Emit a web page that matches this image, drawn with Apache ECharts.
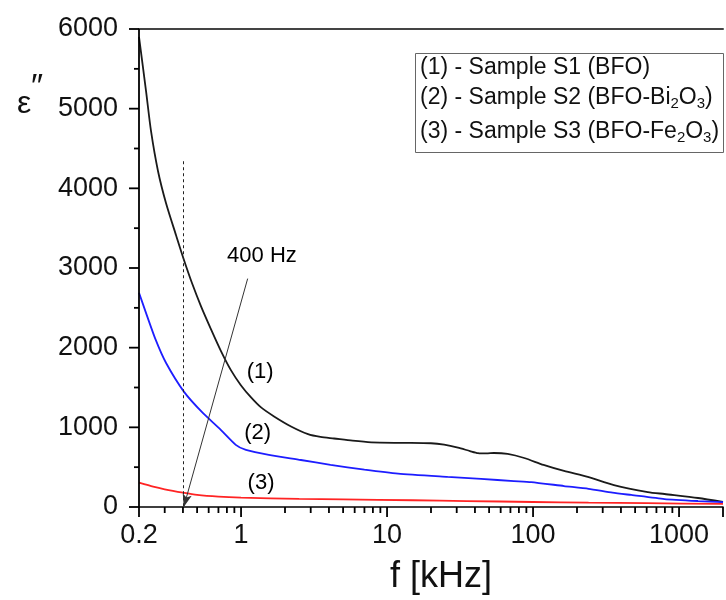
<!DOCTYPE html>
<html>
<head>
<meta charset="utf-8">
<script src="https://cdn.jsdelivr.net/npm/echarts@6/dist/echarts.min.js"></script>
<style>
html,body{margin:0;padding:0;background:#fff;}
#c{width:726px;height:600px;}
</style>
</head>
<body>
<div id="c"></div>
<script>
// ---- data (f in kHz, epsilon'') ----
var s1 = [[0.2,5900],[0.2235,5220],[0.2418,4717],[0.270,4215],[0.3064,3813],[0.3588,3411],[0.407,3097],[0.4618,2808],[0.532,2519],[0.623,2230],[0.730,1954],[0.854,1715],[1.0,1526],[1.171,1376],[1.371,1250],[1.683,1137],[2.2,1011],[2.876,915],[3.5,880],[4.335,860],[5.8,832],[7.8,812],[12.5,805],[20,800],[24.6,782],[30.6,745],[37,702],[42,676],[48,672],[54,678],[67,666],[87,615],[118,528],[163,452],[237,377],[358,276],[611,188],[795,163],[1350,113],[2000,63]];
var s2 = [[0.2,2690],[0.223,2440],[0.26,2100],[0.306,1810],[0.407,1445],[0.547,1180],[0.707,990],[0.92,780],[1.08,716],[1.55,653],[2.57,590],[4.1,528],[7,468],[11.9,418],[26,377],[44,352],[74,326],[97,313],[163,263],[240,228],[350,180],[470,151],[795,100],[1350,75],[2000,62]];
var s3 = [[0.2,305],[0.25,255],[0.3,222],[0.4,180],[0.5,152],[0.7,130],[1,118],[2.5,102],[5,95],[15,85],[35,75],[100,63],[240,55],[600,48],[2000,38]];
var majorLabels = [0.2, 1, 10, 100, 1000];
var xMajorTicks = [0.2, 1, 10, 100, 1000, 2000];
var xMinorTicks = [0.3,0.4,0.5,0.6,0.7,0.8,0.9,2,3,4,5,6,7,8,9,20,30,40,50,60,70,80,90,200,300,400,500,600,700,800,900];
var yMajorTicks = [0,1000,2000,3000,4000,5000,6000];
var yMinorTicks = [500,1500,2500,3500,4500,5500];
var curveLabels = [{name:'(1)', value:[1.35,1690]},{name:'(2)', value:[1.30,932]},{name:'(3)', value:[1.37,304]},{name:'400 Hz', value:[1.39,3147]}];
var markerFreq = 0.4;      // dashed line at 400 Hz
var markerTop = 4340;
var arrowStart = [1.11, 2867];
var arrowEnd = [0.405, 0];
var legendLines = [
  '{n|(1) - Sample S1 (BFO)}',
  '{n|(2) - Sample S2 (BFO-Bi}{s|2}{n|O}{s|3}{n|)}',
  '{n|(3) - Sample S3 (BFO-Fe}{s|2}{n|O}{s|3}{n|)}'
];

var FONT = "'Liberation Sans', Arial, sans-serif";
var chart = echarts.init(document.getElementById('c'), null, {renderer:'canvas'});
var richStyle = {
  n:{fontSize:23, lineHeight:26, fontFamily:FONT, fill:'#111'},
  s:{fontSize:15, lineHeight:2, verticalAlign:'bottom', fontFamily:FONT, fill:'#111'}
};
var legendY = [68, 98, 132];
var XMIN = 0.2, XMAX = 2000, YMAX = 6000;

var baseGraphic = [
  {type:'rect', left:415, top:53, shape:{width:308, height:99}, style:{fill:'#fff', stroke:'#666', lineWidth:1}, z:10},
  {type:'text', x:420, y:legendY[0], style:{text:legendLines[0], rich:richStyle, verticalAlign:'middle', align:'left'}, z:11},
  {type:'text', x:420, y:legendY[1], style:{text:legendLines[1], rich:richStyle, verticalAlign:'middle', align:'left'}, z:11},
  {type:'text', x:420, y:legendY[2], style:{text:legendLines[2], rich:richStyle, verticalAlign:'middle', align:'left'}, z:11},
  {type:'text', x:17, y:104, style:{text:'ε', fontSize:32, fontFamily:FONT, fill:'#111', verticalAlign:'middle'}, z:11},
  {type:'text', x:31, y:88, style:{text:'″', fontSize:34, fontFamily:FONT, fill:'#111', verticalAlign:'middle'}, z:11}
];

chart.setOption({
  animation:false,
  grid:{left:139, right:3, top:29, bottom:93, containLabel:false},
  xAxis:[{
    type:'log', logBase:10, min:XMIN, max:XMAX, position:'bottom',
    axisLine:{show:true, onZero:false, lineStyle:{color:'#000', width:1.6}},
    axisTick:{show:false},
    splitLine:{show:false},
    axisLabel:{show:true, interval:0, margin:15, fontSize:27, color:'#111', fontFamily:FONT,
      formatter:function(v){
        for (var i=0;i<majorLabels.length;i++){ if (Math.abs(v-majorLabels[i])/majorLabels[i] < 1e-6) return String(majorLabels[i]); }
        return '';
      }},
    name:'f [kHz]', nameLocation:'middle', nameGap:52,
    nameTextStyle:{fontSize:36, color:'#111', fontFamily:FONT, padding:[0,0,0,20]}
  },{
    type:'log', logBase:10, min:XMIN, max:XMAX, position:'top',
    axisLine:{show:true, onZero:false, lineStyle:{color:'#444', width:2}},
    axisTick:{show:false}, axisLabel:{show:false}, splitLine:{show:false}
  }],
  yAxis:[{
    type:'value', min:0, max:YMAX, interval:1000, position:'left',
    axisLine:{show:false, onZero:false},
    axisTick:{show:false},
    splitLine:{show:false},
    axisLabel:{fontSize:27, color:'#111', margin:21, fontFamily:FONT, formatter:function(v){return String(v);}}
  }],
  series:[
    {type:'line', name:'S1', data:s1, smooth:0.25, showSymbol:false, lineStyle:{color:'#1a1a1a', width:1.8}, z:3},
    {type:'line', name:'S2', data:s2, smooth:0.2, showSymbol:false, lineStyle:{color:'#1d1dff', width:1.8}, z:3},
    {type:'line', name:'S3', data:s3, smooth:0.2, showSymbol:false, lineStyle:{color:'#ff2424', width:1.8}, z:3},
    {type:'scatter', name:'annot', data:curveLabels, symbolSize:0, itemStyle:{color:'#000', opacity:1}, silent:true, z:6,
      label:{show:true, position:'inside', formatter:function(p){return p.name;}, fontSize:22, color:'#000', opacity:1, fontFamily:FONT},
      markLine:{silent:true, animation:false, label:{show:false}, symbol:['none','none'],
        data:[
          [{coord:[markerFreq, markerTop], lineStyle:{type:[3,3], color:'#222', width:1}}, {coord:[markerFreq, 0]}],
          [{coord:arrowStart, symbol:'none', lineStyle:{type:'solid', color:'#333', width:1}}, {coord:arrowEnd, symbol:'arrow', symbolSize:[7,13]}]
        ]}
    }
  ],
  graphic:baseGraphic
});

// axis frame + ticks placed through the chart's own scales
var rect = chart.getModel().getComponent('grid', 0).coordinateSystem.getRect();
function px(f){ var v = chart.convertToPixel({xAxisIndex:0}, f); return isFinite(v) ? v : (f <= XMIN ? rect.x : rect.x + rect.width); }
function py(v){ return chart.convertToPixel({yAxisIndex:0}, v); }
var axisEls = [];
var LS = {stroke:'#000', lineWidth:1.8};
var x0 = rect.x, yb = py(0), yt = py(YMAX);
axisEls.push({type:'line', shape:{x1:x0, y1:yb + 1, x2:x0, y2:yt}, style:LS, z:12});
yMajorTicks.forEach(function(v){ var y = py(v); axisEls.push({type:'line', shape:{x1:x0 - 10, y1:y, x2:x0, y2:y}, style:LS, z:12}); });
yMinorTicks.forEach(function(v){ var y = py(v); axisEls.push({type:'line', shape:{x1:x0 - 5, y1:y, x2:x0, y2:y}, style:LS, z:12}); });
xMajorTicks.forEach(function(f){ var x = px(f); axisEls.push({type:'line', shape:{x1:x, y1:yb, x2:x, y2:yb + 10}, style:LS, z:12}); });
xMinorTicks.forEach(function(f){ var x = px(f); axisEls.push({type:'line', shape:{x1:x, y1:yb, x2:x, y2:yb + 6}, style:LS, z:12}); });
chart.setOption({graphic: baseGraphic.concat(axisEls)});
</script>
</body>
</html>
